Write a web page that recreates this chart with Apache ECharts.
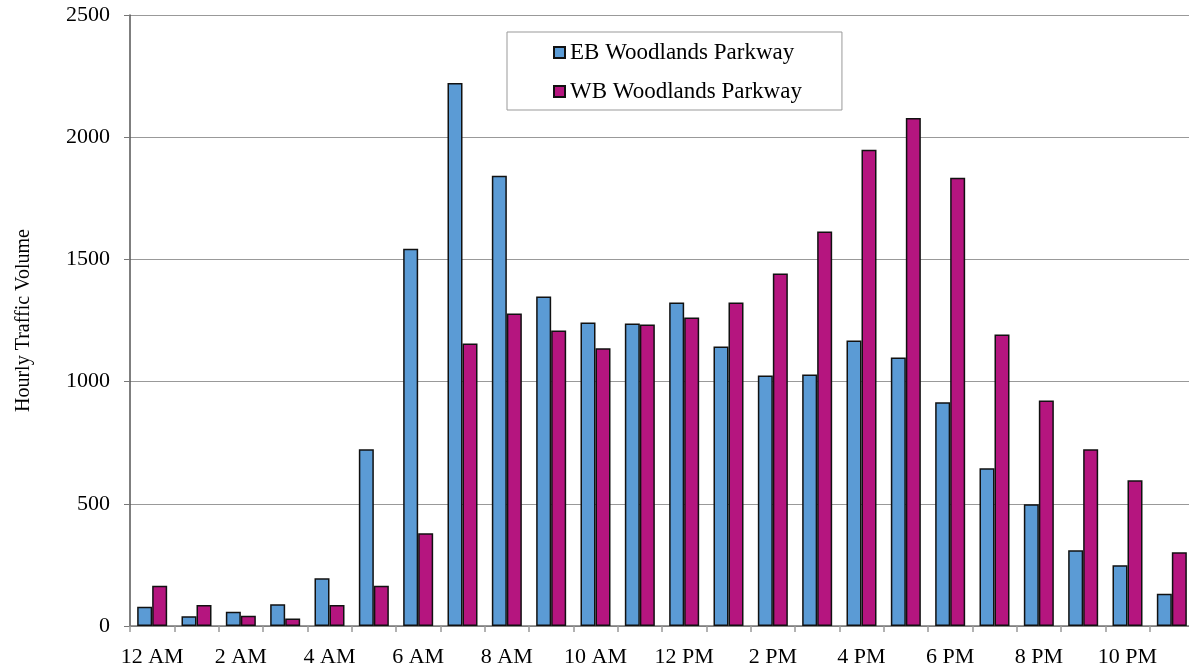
<!DOCTYPE html>
<html>
<head>
<meta charset="utf-8">
<script src="https://cdn.jsdelivr.net/npm/echarts@6/dist/echarts.min.js"></script>
<style>
html,body{margin:0;padding:0;background:#fff;overflow:hidden;}
#chart{width:1200px;height:668px;}
</style>
</head>
<body>
<div id="chart"></div>
<script>
const categories = ['12 AM','1 AM','2 AM','3 AM','4 AM','5 AM','6 AM','7 AM','8 AM','9 AM','10 AM','11 AM',
  '12 PM','1 PM','2 PM','3 PM','4 PM','5 PM','6 PM','7 PM','8 PM','9 PM','10 PM','11 PM'];
const ebValues = [79, 40, 58, 89, 195, 723, 1544, 2222, 1842, 1348, 1242, 1238,
  1324, 1144, 1025, 1029, 1168, 1099, 915, 645, 498, 310, 249, 132];
const wbValues = [165, 86, 42, 31, 86, 165, 380, 1156, 1279, 1209, 1136, 1234,
  1262, 1324, 1442, 1614, 1949, 2079, 1834, 1193, 923, 723, 596, 302];
const seriesNames = ['EB Woodlands Parkway', 'WB Woodlands Parkway'];
const yTitle = 'Hourly Traffic Volume';

const font = '"Liberation Serif", "Times New Roman", serif';
const chart = echarts.init(document.getElementById('chart'), null, {renderer: 'canvas'});
chart.setOption({
  backgroundColor: '#fff',
  animation: false,
  textStyle: {fontFamily: font, color: '#000'},
  grid: {left: 130, top: 15, right: 6, bottom: 41, containLabel: false},
  legend: {
    orient: 'vertical',
    left: 507, top: 32,
    padding: [9, 40, 7, 46],
    borderColor: '#999', borderWidth: 1,
    itemWidth: 11, itemHeight: 11, itemGap: 16,
    icon: 'rect',
    textStyle: {fontFamily: font, fontSize: 23, color: '#000'},
    data: seriesNames
  },
  xAxis: {
    type: 'category',
    data: categories,
    axisLine: {lineStyle: {color: '#777', width: 1.5}},
    axisTick: {show: true, interval: 0, length: 6, lineStyle: {color: '#999', width: 1.5}},
    axisLabel: {interval: 1, margin: 20, fontFamily: font, fontSize: 22, color: '#000'},
    splitLine: {show: false}
  },
  yAxis: {
    type: 'value',
    min: 0, max: 2500, interval: 500,
    name: yTitle,
    nameLocation: 'middle',
    nameGap: 96,
    nameTextStyle: {fontFamily: font, fontSize: 20, color: '#000'},
    axisLine: {show: true, lineStyle: {color: '#555', width: 1.5}},
    axisTick: {show: true, length: 6, lineStyle: {color: '#777'}},
    axisLabel: {margin: 20, fontFamily: font, fontSize: 22, color: '#000', formatter: v => String(v)},
    splitLine: {lineStyle: {color: '#999', width: 1}}
  },
  series: [
    {
      name: seriesNames[0], type: 'bar', data: ebValues,
      barWidth: 15, barGap: '0%',
      itemStyle: {color: '#5B9BD5', borderColor: '#111', borderWidth: 1.5}
    },
    {
      name: seriesNames[1], type: 'bar', data: wbValues,
      barWidth: 15, barGap: '0%',
      itemStyle: {color: '#B5157F', borderColor: '#111', borderWidth: 1.5}
    }
  ]
});
</script>
</body>
</html>
